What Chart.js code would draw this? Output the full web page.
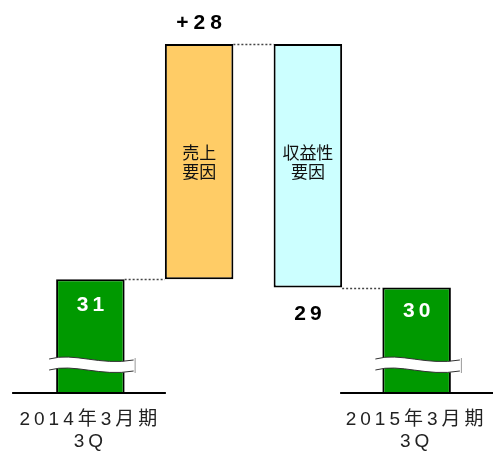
<!DOCTYPE html>
<html>
<head>
<meta charset="utf-8">
<script src="https://cdn.jsdelivr.net/npm/chart.js@4.4.1/dist/chart.umd.min.js"></script>
<style>
  html, body { margin: 0; padding: 0; background: #fff; }
  #wrap { width: 493px; height: 457px; }
</style>
</head>
<body>
<div id="wrap"><canvas id="chart"></canvas></div>
<script>
// data
const categories = [['2014年3月期', '3Q'], '', '', ['2015年3月期', '3Q']];
const barStarts = [0, 31, 30, 0];
const barEnds = [31, 59, 59, 30];
const valueLabels = ['31', '+28', '29', '30'];
const innerLabels = [null, ['売上', '要因'], ['収益性', '要因'], null];
const barColors = ['#009900', '#FFCC66', '#CCFFFF', '#009900'];

// draws text with extra gap between characters, centred on cx
function drawSpaced(ctx, text, cx, cy, gap) {
  const chars = text.split('');
  const widths = chars.map(c => ctx.measureText(c).width);
  const total = widths.reduce((a, b) => a + b, 0) + gap * (chars.length - 1);
  let x = cx - total / 2;
  ctx.textAlign = 'left';
  chars.forEach((c, i) => {
    ctx.fillText(c, x, cy);
    x += widths[i] + gap;
  });
}

const extras = {
  id: 'extras',
  // wide letter spacing for the axis labels only
  beforeDraw(chart) { chart.ctx.letterSpacing = '4px'; },
  beforeDatasetsDraw(chart) { chart.ctx.letterSpacing = '0px'; },
  afterDatasetsDraw(chart) {
    const ctx = chart.ctx;
    const y = chart.scales.y;
    const bars = chart.getDatasetMeta(0).data;
    const half = bars.map(b => b.width / 2);
    const base = chart.chartArea.bottom;

    ctx.save();

    // dotted connectors between bar edges
    ctx.strokeStyle = '#444';
    ctx.lineWidth = 1.5;
    ctx.setLineDash([2, 2]);
    const links = [[0, 1, barEnds[0]], [1, 2, barEnds[1]], [2, 3, barStarts[2]]];
    links.forEach(([a, b, v]) => {
      const py = Math.round(y.getPixelForValue(v)) + 0.5;
      ctx.beginPath();
      ctx.moveTo(bars[a].x + half[a], py);
      ctx.lineTo(bars[b].x - half[b], py);
      ctx.stroke();
    });
    ctx.setLineDash([]);

    // wavy break across the two broken bars
    [0, 3].forEach(i => {
      const L = bars[i].x - half[i] - 7;
      const R = bars[i].x + half[i] + 9;
      const w = R - L;
      const t = base - 35;
      const wave = (off) => {
        ctx.moveTo(L, t + 2 + off);
        ctx.bezierCurveTo(L + w * 0.3, t - 5 + off, L + w * 0.6, t + 9 + off, R, t + 3 + off);
      };
      ctx.beginPath();
      wave(0);
      ctx.lineTo(R, t + 14);
      ctx.bezierCurveTo(L + w * 0.6, t + 20, L + w * 0.3, t + 6, L, t + 13);
      ctx.closePath();
      ctx.fillStyle = '#fff';
      ctx.fill();
      ctx.strokeStyle = '#333';
      ctx.lineWidth = 1;
      ctx.beginPath();
      wave(0);
      ctx.stroke();
      ctx.beginPath();
      wave(11);
      ctx.stroke();
      ctx.strokeStyle = '#999';
      ctx.beginPath();
      ctx.moveTo(R + 1.5, t + 1);
      ctx.lineTo(R + 1.5, t + 16);
      ctx.stroke();
    });

    // baselines under the two ends
    ctx.strokeStyle = '#000';
    ctx.lineWidth = 2;
    ctx.beginPath();
    ctx.moveTo(bars[0].x - half[0] - 44, base + 1);
    ctx.lineTo(bars[1].x - half[1] + 1, base + 1);
    ctx.moveTo(bars[2].x + half[2] - 2, base + 1);
    ctx.lineTo(chart.width, base + 1);
    ctx.stroke();

    // value labels
    ctx.font = 'bold 21px "Liberation Sans", Arial, sans-serif';
    ctx.textBaseline = 'middle';
    ctx.fillStyle = '#fff';
    drawSpaced(ctx, valueLabels[0], bars[0].x, y.getPixelForValue(barEnds[0]) + 26, 4);
    drawSpaced(ctx, valueLabels[3], bars[3].x, y.getPixelForValue(barEnds[3]) + 24, 4);
    ctx.fillStyle = '#000';
    drawSpaced(ctx, valueLabels[1], bars[1].x, y.getPixelForValue(barEnds[1]) - 21, 5);
    drawSpaced(ctx, valueLabels[2], bars[2].x, y.getPixelForValue(barStarts[2]) + 27, 4);

    // labels inside the change bars
    ctx.font = '17px "Noto Sans CJK JP", sans-serif';
    ctx.fillStyle = '#111';
    ctx.textAlign = 'center';
    innerLabels.forEach((lines, i) => {
      if (!lines) return;
      const top = y.getPixelForValue(barEnds[i]);
      lines.forEach((s, k) => ctx.fillText(s, bars[i].x, top + 109 + k * 19));
    });

    ctx.restore();
  }
};

new Chart(document.getElementById('chart'), {
  type: 'bar',
  data: {
    labels: categories,
    datasets: [{
      data: barStarts.map((s, i) => [s, barEnds[i]]),
      backgroundColor: barColors,
      borderColor: '#000',
      borderWidth: 2,
      borderSkipped: false,
      barPercentage: 0.63,
      categoryPercentage: 1
    }]
  },
  options: {
    responsive: true,
    maintainAspectRatio: false,
    animation: false,
    layout: { padding: { top: 44, left: 36, right: 22, bottom: 0 } },
    plugins: { legend: { display: false }, tooltip: { enabled: false } },
    scales: {
      x: {
        grid: { display: false },
        border: { display: false },
        afterFit: s => { s.height = 65; },
        ticks: {
          padding: 8,
          autoSkip: false,
          maxRotation: 0,
          minRotation: 0,
          color: '#222',
          font: { family: '"Liberation Sans", "Noto Sans CJK JP", sans-serif', size: 19, lineHeight: 1.2 }
        }
      },
      y: { display: false, min: 17.57, max: 59 }
    }
  },
  plugins: [extras]
});
</script>
</body>
</html>
